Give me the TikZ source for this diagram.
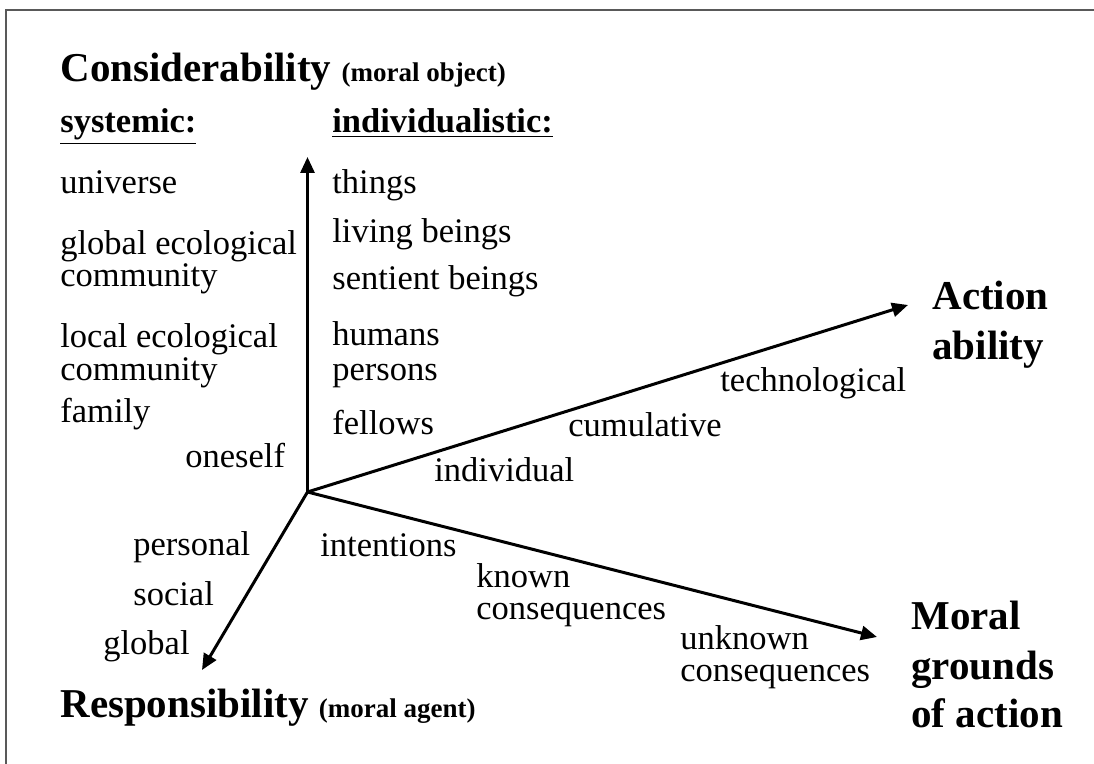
\documentclass[tikz,border=0pt]{standalone}
\usepackage{fontspec}
\setmainfont{Liberation Serif}
\usetikzlibrary{arrows.meta}

\begin{document}
\begin{tikzpicture}[x=0.5pt,y=-0.5pt,
    axis/.style={line width=1.5pt,-{Triangle[length=8pt,width=7pt]}},
    lbl/.style={anchor=base west,inner sep=0pt,font=\fontsize{17.25}{20}\selectfont},
    head/.style={anchor=base west,inner sep=0pt,font=\fontsize{20.5}{24}\selectfont\bfseries},
    colhead/.style={anchor=base west,inner sep=0pt,font=\fontsize{17.25}{20}\selectfont\bfseries}]

    % Fix the size of the page
    \useasboundingbox (0,0) rectangle (1094,764);

    % Frame (only its top and left edges are visible)
    \draw[line width=1pt,black!65] (1094,10.5) -- (6,10.5) -- (6,764);

    % Origin of the axes and the arrow tips
    \coordinate (O) at (307.5,492);
    \coordinate (Top) at (307.5,157);
    \coordinate (Act) at (908,305);
    \coordinate (Gro) at (877,637);
    \coordinate (Res) at (202,670);

    % Draw the four axes
    \draw[axis] (O) -- (Top);
    \draw[axis] (O) -- (Act);
    \draw[axis] (O) -- (Gro);
    \draw[axis] (O) -- (Res);

    % Considerability axis: title and the two columns
    \node[head] (cons) at (60,82) {Considerability \fontsize{13.5}{16}\selectfont(moral object)};
    \node[colhead] (sys) at (60,133) {\underline{systemic:}};
    \node[colhead] (ind) at (332,133) {\underline{individualistic:}};

    \node[lbl] (univ) at (60,194) {universe};
    \node[lbl] (glob1) at (60,255) {global ecological};
    \node[lbl] (glob2) at (60,287) {community};
    \node[lbl] (loc1) at (60,348) {local ecological};
    \node[lbl] (loc2) at (60,381) {community};
    \node[lbl] (fam) at (60,423) {family};
    \node[lbl] (self) at (185,468) {oneself};

    \node[lbl] (thing) at (332,194) {things};
    \node[lbl] (liv) at (332,243) {living beings};
    \node[lbl] (sent) at (332,290) {sentient beings};
    \node[lbl] (hum) at (332,346) {humans};
    \node[lbl] (pers) at (332,381) {persons};
    \node[lbl] (fell) at (332,435) {fellows};

    % Action ability axis
    \node[lbl] (indiv) at (434,482) {individual};
    \node[lbl] (cumul) at (568,437) {cumulative};
    \node[lbl] (tech) at (720,392) {technological};
    \node[head] (act1) at (932,310) {Action};
    \node[head] (act2) at (932,360) {ability};

    % Moral grounds of action axis
    \node[lbl] (inten) at (320,557) {intentions};
    \node[lbl] (known1) at (476,588) {known};
    \node[lbl] (known2) at (476,620) {consequences};
    \node[lbl] (unkn1) at (680,650) {unknown};
    \node[lbl] (unkn2) at (680,682) {consequences};
    \node[head] (mor1) at (911,630) {Moral};
    \node[head] (mor2) at (911,680) {grounds};
    \node[head] (mor3) at (911,728) {of action};

    % Responsibility axis
    \node[lbl] (pers1) at (133,556) {personal};
    \node[lbl] (soc) at (133,606) {social};
    \node[lbl] (glo) at (103,655) {global};
    \node[head] (resp) at (60,718) {Responsibility \fontsize{13.5}{16}\selectfont(moral agent)};

\end{tikzpicture}
\end{document}
